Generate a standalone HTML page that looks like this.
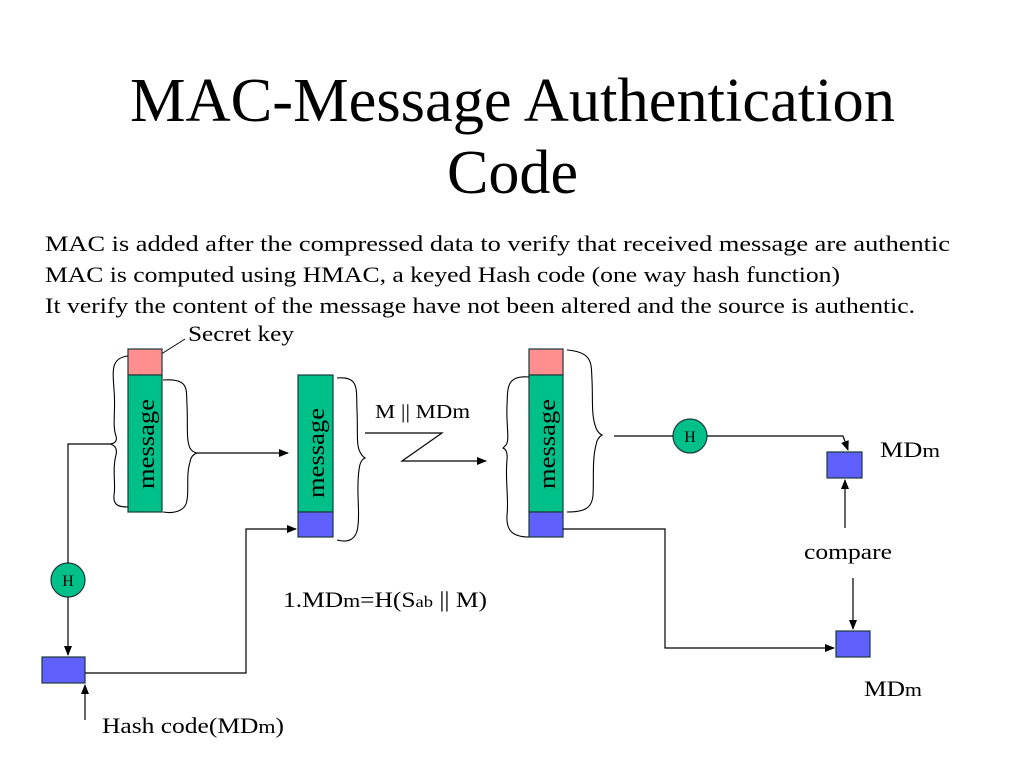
<!DOCTYPE html>
<html><head><meta charset="utf-8"><style>
html,body{margin:0;padding:0;background:#fff}
svg{display:block}
text{font-family:"Liberation Serif",serif;fill:#000}
</style></head><body>
<svg width="1024" height="768" viewBox="0 0 1024 768" xmlns="http://www.w3.org/2000/svg">
<defs><marker id="a" markerWidth="10" markerHeight="8" refX="9" refY="4" orient="auto" markerUnits="userSpaceOnUse"><path d="M0,0 L10,4 L0,8 z" fill="#000"/></marker></defs>
<text x="130" y="121" font-size="62" textLength="765" lengthAdjust="spacingAndGlyphs">MAC-Message Authentication</text>
<text x="447" y="193" font-size="62" textLength="131" lengthAdjust="spacingAndGlyphs">Code</text>
<text x="45" y="251" font-size="22" textLength="905" lengthAdjust="spacingAndGlyphs">MAC is added after the compressed data to verify that received message are authentic</text>
<text x="45" y="282" font-size="22" textLength="795" lengthAdjust="spacingAndGlyphs">MAC is computed using HMAC, a keyed Hash code (one way hash function)</text>
<text x="45" y="313" font-size="22" textLength="870" lengthAdjust="spacingAndGlyphs">It verify the content of the message have not been altered and the source is authentic.</text>
<text x="188" y="341" font-size="22" textLength="106" lengthAdjust="spacingAndGlyphs">Secret key</text>
<line x1="185" y1="339" x2="155" y2="358" stroke="#000" stroke-width="1"/>
<g stroke="#1a3a3a" stroke-width="1.2">
<rect x="128" y="349" width="34" height="26" fill="#ff8f8f"/>
<rect x="128" y="375" width="34" height="137" fill="#00c08a"/>
<rect x="298" y="375" width="35" height="137" fill="#00c08a"/>
<rect x="298" y="512" width="35" height="25" fill="#6060ff"/>
<rect x="529" y="349" width="34" height="26" fill="#ff8f8f"/>
<rect x="529" y="375" width="34" height="137" fill="#00c08a"/>
<rect x="529" y="512" width="34" height="25" fill="#6060ff"/>
<rect x="42" y="657" width="43" height="26" fill="#6060ff"/>
<rect x="827" y="452" width="35" height="26" fill="#6060ff"/>
<rect x="836" y="631" width="34" height="26" fill="#6060ff"/>
<circle cx="68" cy="580" r="17" fill="#00c08a"/>
<circle cx="690" cy="436" r="17" fill="#00c08a"/>
</g>
<text x="68" y="586" font-size="16" text-anchor="middle">H</text>
<text x="690" y="442" font-size="16" text-anchor="middle">H</text>
<text transform="translate(154,444) rotate(-90)" font-size="24" text-anchor="middle" textLength="90" lengthAdjust="spacingAndGlyphs">message</text>
<text transform="translate(324,453) rotate(-90)" font-size="24" text-anchor="middle" textLength="90" lengthAdjust="spacingAndGlyphs">message</text>
<text transform="translate(555,444) rotate(-90)" font-size="24" text-anchor="middle" textLength="90" lengthAdjust="spacingAndGlyphs">message</text>
<g fill="none" stroke="#000" stroke-width="1.1">
<path d="M128,356 C110,358 113,372 114,390 C116,410 112,425 116,436 Q118,443 110,444 Q118,446 116,455 C112,470 116,485 114,495 C113,505 118,507 128,507"/>
<path d="M163,380 C190,378 186,390 187,405 C188,425 186,440 190,448 Q192,452 197,453 Q191,455 190,462 C186,475 189,490 187,500 C186,510 176,514 163,512"/>
<path d="M337,378 C360,376 356,390 357,410 C358,430 356,445 360,452 Q362,456 365,458 Q360,460 359,470 C356,490 360,510 358,525 C357,540 348,543 337,540"/>
<path d="M529,377 C505,375 508,390 507,405 C506,425 510,440 506,445 Q504,447 503,448 Q508,450 507,460 C505,480 509,500 507,515 C506,530 512,537 529,537"/>
<path d="M567,350 C594,352 591,365 592,380 C593,400 591,415 596,428 Q598,433 602,435 Q597,438 596,445 C592,460 594,480 593,495 C592,508 585,512 567,512"/>
</g>
<g fill="none" stroke="#000" stroke-width="1.2">
<path d="M110,444 H68 V563"/>
<path d="M68,597 V655" marker-end="url(#a)"/>
<path d="M85,720 V685" marker-end="url(#a)"/>
<path d="M85,673 H246 V529 H296" marker-end="url(#a)"/>
<path d="M197,453 H288" marker-end="url(#a)"/>
<path d="M365,433 H442 L402,461 H486" marker-end="url(#a)"/>
<path d="M614,436 H673"/>
<path d="M707,436 H843 L848,450" marker-end="url(#a)"/>
<path d="M845,528 V480" marker-end="url(#a)"/>
<path d="M853,578 V629" marker-end="url(#a)"/>
<path d="M563,529 H665 V648 H834" marker-end="url(#a)"/>
</g>
<text x="375" y="418" font-size="20" textLength="95" lengthAdjust="spacingAndGlyphs">M || MDm</text>
<text x="880" y="457" font-size="22" textLength="60" lengthAdjust="spacingAndGlyphs">MD<tspan font-size="19">m</tspan></text>
<text x="804" y="559" font-size="22" textLength="88" lengthAdjust="spacingAndGlyphs">compare</text>
<text x="864" y="696" font-size="22" textLength="58" lengthAdjust="spacingAndGlyphs">MD<tspan font-size="19">m</tspan></text>
<text x="283" y="607" font-size="22" textLength="204" lengthAdjust="spacingAndGlyphs">1.MD<tspan font-size="19">m</tspan>=H(S<tspan font-size="16">ab</tspan> || M)</text>
<text x="102" y="733" font-size="22" textLength="182" lengthAdjust="spacingAndGlyphs">Hash code(MD<tspan font-size="19">m</tspan>)</text>
</svg>
</body></html>
